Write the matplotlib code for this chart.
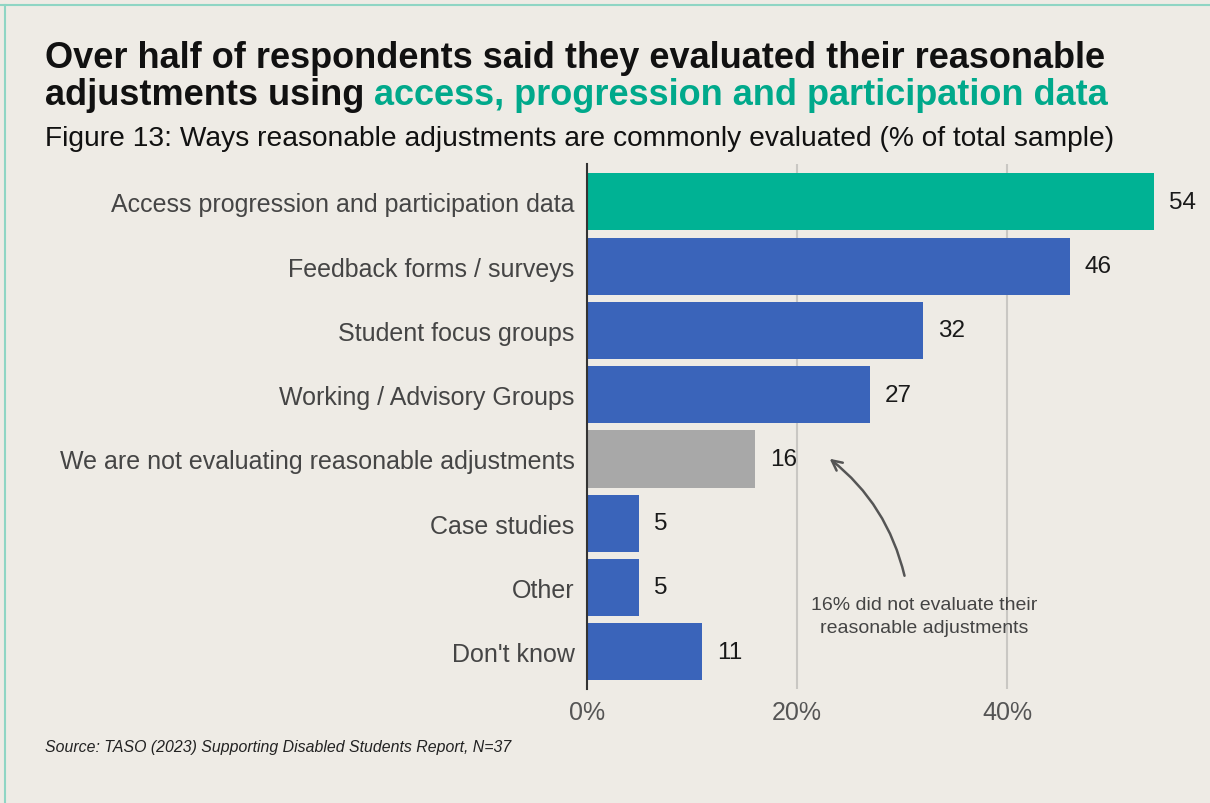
import matplotlib.pyplot as plt

categories = ['Access progression and participation data', 'Feedback forms / surveys',
              'Student focus groups', 'Working / Advisory Groups',
              'We are not evaluating reasonable adjustments', 'Case studies', 'Other', "Don't know"]
values = [54, 46, 32, 27, 16, 5, 5, 11]
colors = ['#00B294', '#3A64BA', '#3A64BA', '#3A64BA', '#A8A8A8', '#3A64BA', '#3A64BA', '#3A64BA']
ticks = [0, 20, 40]
tick_labels = ['0%', '20%', '40%']

bg = '#EEEBE5'
plt.rcParams['font.family'] = 'Liberation Sans'

fig = plt.figure(figsize=(12.1, 8.04), dpi=100, facecolor=bg)
ax = fig.add_axes([0.4851, 0.1418, 0.486, 0.653])
ax.set_facecolor(bg)

y = list(range(len(categories)))
ax.barh(y, values, height=0.89, color=colors, zorder=2)
ax.set_ylim(7.58, -0.59)
ax.set_xlim(0, 56)

for yi, v in zip(y, values):
    ax.text(v + 1.4, yi, str(v), va='center', ha='left', fontsize=17.5, color='#1A1A1A')

ax.set_yticks(y)
ax.set_yticklabels(categories, fontsize=18, color='#454545')
ax.set_xticks(ticks)
ax.set_xticklabels(tick_labels, fontsize=18, color='#555555')
ax.tick_params(axis='y', length=0, pad=9)
ax.tick_params(axis='x', length=0, pad=8)
for g in ticks[1:]:
    ax.axvline(g, color='#C9C7C3', lw=1.5, zorder=1)
for s in ['top', 'right', 'bottom']:
    ax.spines[s].set_visible(False)
ax.spines['left'].set_color('#333333')
ax.spines['left'].set_linewidth(1.5)

# annotation
ax.annotate('', xy=(22.9, 3.97), xytext=(30.3, 5.86),
            arrowprops=dict(arrowstyle='->', color='#555555', lw=1.8,
                            connectionstyle='arc3,rad=0.18', mutation_scale=18))
ax.text(32.1, 6.45, '16% did not evaluate their\nreasonable adjustments', ha='center', va='center',
        fontsize=14, color='#444444', linespacing=1.45)

# titles
fig.text(0.037, 0.9155, 'Over half of respondents said they evaluated their reasonable',
         fontsize=26, fontweight='bold', color='#111111', va='baseline')
t1 = fig.text(0.037, 0.869, 'adjustments using ', fontsize=26, fontweight='bold',
              color='#111111', va='baseline')
fig.canvas.draw()
bb = t1.get_window_extent()
fig.text(bb.x1 / fig.bbox.width, 0.869, 'access, progression and participation data',
         fontsize=26, fontweight='bold', color='#00A98B', va='baseline')
fig.text(0.037, 0.818, 'Figure 13: Ways reasonable adjustments are commonly evaluated (% of total sample)',
         fontsize=20.25, color='#111111', va='baseline')
fig.text(0.037, 0.065, 'Source: TASO (2023) Supporting Disabled Students Report, N=37',
         fontsize=11.4, style='italic', color='#222222', va='baseline')

# frame lines
fig.add_artist(plt.Line2D([0, 1], [0.992, 0.992], color='#8FD5C4', lw=1.5))
fig.add_artist(plt.Line2D([0.004, 0.004], [0, 0.992], color='#8FD5C4', lw=1.5))

fig.savefig('out.png', dpi=100, facecolor=bg)
